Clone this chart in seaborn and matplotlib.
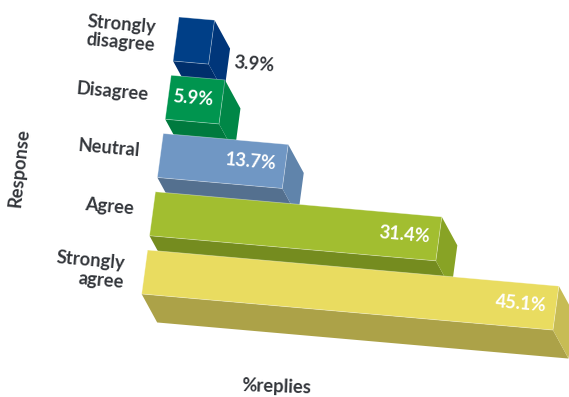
import matplotlib
matplotlib.use("Agg")
import matplotlib.pyplot as plt
import seaborn as sns
import numpy as np
from matplotlib.patches import Polygon
from matplotlib.transforms import Affine2D, IdentityTransform

categories = ["Strongly\ndisagree", "Disagree", "Neutral", "Agree", "Strongly\nagree"]
values = [3.9, 5.9, 13.7, 31.4, 45.1]
value_labels = ["3.9%", "5.9%", "13.7%", "31.4%", "45.1%"]
x_title = "%replies"
y_title = "Response"

front_colors = ["#003F87", "#00954F", "#7097C4", "#A2BE30", "#E9DC60"]
side_colors = ["#00367A", "#008747", "#6084AB", "#88A325", "#C7BC55"]
under_colors = ["#002F6C", "#007A3E", "#54708F", "#758C1F", "#ACA248"]

W, H = 569, 397
sns.set_theme(style="white")
plt.rcParams["font.family"] = ["Lato", "DejaVu Sans"]
INK = "#33363B"
FS = 13.2

fig = plt.figure(figsize=(W / 100, H / 100), dpi=100)
ax = fig.add_axes([0, 0, 1, 1])
sns.barplot(x=values, y=categories, hue=categories, palette=front_colors, order=categories,
            hue_order=categories, legend=False, width=0.755, saturation=1, ax=ax, orient="h")
ax.set_axis_off()

# oblique projection: (value, category position) -> canvas pixels
proj = Affine2D.from_values(9.12, -0.80, -7.85, -58.25, 176.0, H - 39.0)
DV, DC = 2.10, 0.46  # extrusion expressed in data units

bars = sorted(ax.patches, key=lambda p: p.get_y())
for i, bar in enumerate(bars):
    v0, v1 = bar.get_x(), bar.get_x() + bar.get_width()
    c0, c1 = bar.get_y(), bar.get_y() + bar.get_height()
    base = 10 * (i + 1)
    under = Polygon([(v0, c1), (v1, c1), (v1 + DV, c1 + DC), (v0 + DV, c1 + DC)],
                    facecolor=under_colors[i], edgecolor="none", transform=proj,
                    clip_on=False, zorder=base)
    side = Polygon([(v1, c0), (v1, c1), (v1 + DV, c1 + DC), (v1 + DV, c0 + DC)],
                   facecolor=side_colors[i], edgecolor="none", transform=proj,
                   clip_on=False, zorder=base + 1)
    ax.add_patch(under)
    ax.add_patch(side)
    bar.set_transform(proj)
    bar.set_clip_on(False)
    bar.set_zorder(base + 2)
    bar.set_edgecolor((1, 1, 1, 0.45))
    bar.set_linewidth(0.5)
    # value label
    if i == 0:
        lv, lc, col, ha = v1 + 7.2, i + 0.31, INK, "right"
    else:
        lv, lc, col, ha = v1 - 1.0, i - 0.02, "white", "right"
    ax.text(lv, lc, value_labels[i], transform=proj, color=col, fontsize=FS, fontweight="bold",
            ha=ha, va="center", rotation=-5, rotation_mode="anchor", zorder=base + 3, clip_on=False)

label_xy = [(121, 34), (112, 92), (109, 148), (109, 207), (90, 270)]
label_align = ["center", "center", "center", "center", "right"]
for name, (px, py), al in zip(categories, label_xy, label_align):
    ax.text(px, H - py, name, transform=IdentityTransform(), color=INK, fontsize=FS, fontweight="bold",
            ha="center", va="center", multialignment=al, rotation=-5, linespacing=1.08, clip_on=False)

ax.text(19, H - 168, y_title, transform=IdentityTransform(), color=INK, fontsize=FS, fontweight="bold",
        ha="center", va="center", rotation=84, clip_on=False)
ax.text(276, H - 387, x_title, transform=IdentityTransform(), color=INK, fontsize=FS, fontweight="bold",
        ha="center", va="center", rotation=-2, clip_on=False)

fig.savefig("out.png", dpi=100)
